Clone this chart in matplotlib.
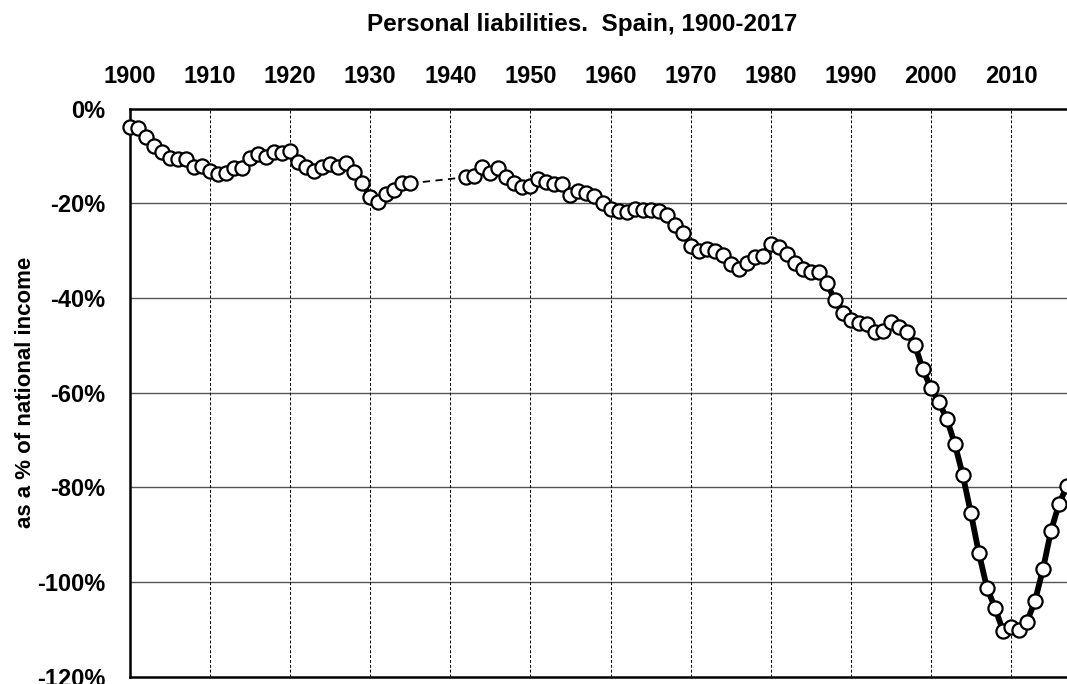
import matplotlib
matplotlib.use("Agg")
import matplotlib.pyplot as plt
from matplotlib.ticker import FuncFormatter

plt.rcParams["font.family"] = ["Liberation Sans", "DejaVu Sans"]
plt.rcParams["font.weight"] = "bold"

# ── Data (share of national income, %) ────────────────────────────────
years_early = list(range(1900, 1936))
vals_early = [-4.0, -4.1, -6.0, -7.9, -9.1, -10.5, -10.7, -10.7, -12.3, -12.1,
              -13.3, -13.8, -13.7, -12.5, -12.5, -10.5, -9.7, -10.2, -9.1, -9.3,
              -8.9, -11.2, -12.3, -13.3, -12.4, -11.7, -12.3, -11.6, -13.5, -15.8,
              -18.6, -19.7, -18.1, -17.2, -15.7, -15.8]

years_late = list(range(1942, 2018))
vals_late = [-14.5, -14.3, -12.4, -13.7, -12.6, -14.4, -15.7, -16.5,
             -16.4, -14.8, -15.5, -15.9, -15.9, -18.3, -17.4, -17.9, -18.4, -20.0,
             -21.3, -21.6, -21.8, -21.2, -21.4, -21.4, -21.6, -22.5, -24.6, -26.2,
             -29.0, -30.0, -29.7, -30.1, -30.9, -32.8, -33.8, -32.6, -31.4, -31.2,
             -28.7, -29.2, -30.7, -32.7, -34.0, -34.6, -34.5, -36.9, -40.4, -43.1,
             -44.7, -45.4, -45.5, -47.3, -46.9, -45.0, -46.2, -47.3, -49.9, -55.1,
             -59.0, -62.0, -65.6, -70.9, -77.5, -85.5, -93.9, -101.2, -105.4, -110.3,
             -109.4, -110.1, -108.4, -104.0, -97.3, -89.2, -83.5, -79.7]

x_ticks = list(range(1900, 2011, 10))
y_ticks = [0, -20, -40, -60, -80, -100, -120]

# ── Figure ────────────────────────────────────────────────────────────
fig = plt.figure(figsize=(10.67, 6.84), dpi=100)
ax = fig.add_axes([130 / 1067, 1 - 676.7 / 684, 937 / 1067, (676.7 - 108.5) / 684])

ax.set_xlim(1900, 2017)
ax.set_ylim(-120, 0)

# grid
for yv in y_ticks[1:-1]:
    ax.axhline(yv, color="#555555", lw=1.0, zorder=1)
for xv in x_ticks[1:]:
    ax.axvline(xv, color="black", lw=0.7, ls=(0, (3, 2)), zorder=1)

# dashed link across the missing war years
ax.plot([years_early[-1], years_late[0]], [vals_early[-1], vals_late[0]],
        color="black", lw=1.3, ls=(0, (4, 3)), zorder=2)

marker_kw = dict(color="black", lw=4.2, marker="o", markersize=10.2,
                 markerfacecolor="white", markeredgecolor="black",
                 markeredgewidth=1.6, clip_on=False, zorder=3)
ax.plot(years_early, vals_early, **marker_kw)
ax.plot(years_late, vals_late, **marker_kw)

# axes styling
ax.xaxis.tick_top()
ax.set_xticks(x_ticks)
ax.set_yticks(y_ticks)
ax.yaxis.set_major_formatter(FuncFormatter(lambda v, p: f"{int(v)}%"))
ax.tick_params(axis="x", length=0, pad=15, labelsize=17)
ax.tick_params(axis="y", length=0, pad=18, labelsize=17)
for lab in ax.get_xticklabels() + ax.get_yticklabels():
    lab.set_fontweight("bold")

for side in ["left", "bottom", "top"]:
    ax.spines[side].set_linewidth(1.8)
ax.spines["right"].set_visible(False)

ax.set_ylabel("as a % of national income", fontsize=16, fontweight="bold")
ax.yaxis.set_label_coords(-0.100, 0.5)

fig.text(582 / 1067, 1 - 25 / 684, "Personal liabilities.  Spain, 1900-2017",
         ha="center", va="center", fontsize=17.5, fontweight="bold")

fig.savefig("out.png", dpi=100)
